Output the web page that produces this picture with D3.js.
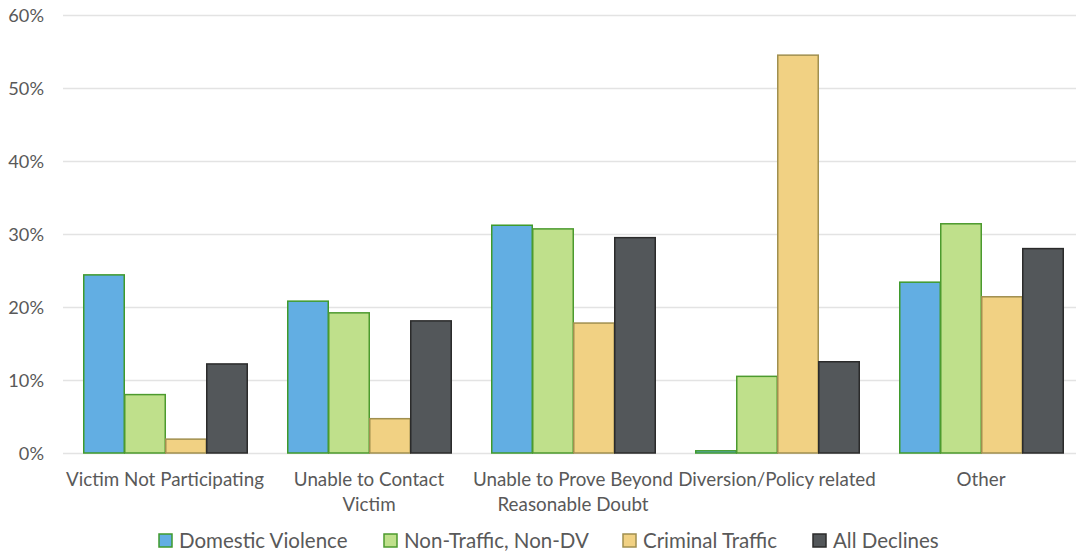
<!DOCTYPE html>
<html><head><meta charset="utf-8">
<script src="https://cdn.jsdelivr.net/npm/d3@7"></script>
<style>body{margin:0;background:#fff}svg{display:block}text{font-family:Lato,"Open Sans",sans-serif}</style>
</head><body><svg id="c" width="1076" height="554"></svg>
<script>
const categories = ["Victim Not Participating","Unable to Contact Victim","Unable to Prove Beyond Reasonable Doubt","Diversion/Policy related","Other"];
const seriesNames = ["Domestic Violence","Non-Traffic, Non-DV","Criminal Traffic","All Declines"];
const domesticViolence = [24.4, 20.8, 31.2, 0.3, 23.4];
const nonTrafficNonDV = [8.0, 19.2, 30.7, 10.5, 31.4];
const criminalTraffic = [1.9, 4.7, 17.8, 54.5, 21.4];
const allDeclines = [12.2, 18.1, 29.5, 12.5, 28.0];
const yTicks = [0,10,20,30,40,50,60];

const fills = ["#62AEE3","#BFE08B","#F1D183","#53575A"];
const strokes = ["#3F9A2C","#4C9A2E","#A08F4F","#2B2B2B"];
const values = [domesticViolence, nonTrafficNonDV, criminalTraffic, allDeclines];

const svg = d3.select("#c");
const pLeft = 63, bandW = 204, pTop = 15, pBottom = 453;
const x = d3.scaleBand().domain(categories).range([pLeft, pLeft + bandW*categories.length]).paddingInner(40/204).paddingOuter(20/204);
const xs = d3.scaleBand().domain(seriesNames).range([0, x.bandwidth()]);
const y = d3.scaleLinear().domain([0,60]).range([pBottom, pTop]);

// gridlines
svg.append("g").selectAll("line").data(yTicks).join("line")
  .attr("x1", pLeft).attr("x2", 1076)
  .attr("y1", d => y(d)+0.5).attr("y2", d => y(d)+0.5)
  .attr("stroke", "#E3E3E3").attr("stroke-width", 1.3);

// y axis
const yAxis = d3.axisLeft(y).tickValues(yTicks).tickFormat(d => d + "%").tickSize(0).tickPadding(0);
const yg = svg.append("g").attr("transform", `translate(44,0)`).call(yAxis);
yg.select(".domain").remove();
yg.selectAll("text").attr("fill", "#595959").style("font-size", "18.2px").style("font-family", "Lato,sans-serif").attr("dy", "0.35em");

// bars
const groups = svg.append("g").selectAll("g").data(categories).join("g")
  .attr("transform", c => `translate(${x(c)},0)`);
groups.selectAll("rect").data((c, i) => seriesNames.map((s, k) => ({s, k, v: values[k][i]})))
  .join("rect")
  .attr("x", d => xs(d.s)+0.75).attr("width", xs.bandwidth()-0.5)
  .attr("y", d => y(d.v)).attr("height", d => pBottom - y(d.v))
  .attr("fill", d => fills[d.k]).attr("stroke", d => strokes[d.k]).attr("stroke-width", 1.5);

// x axis
const xAxis = d3.axisBottom(x).tickSize(0).tickPadding(0);
const xg = svg.append("g").attr("transform", `translate(0,${pBottom})`).call(xAxis);
xg.select(".domain").remove();
xg.selectAll("text").attr("fill", "#595959").style("font-size", "18.8px").style("font-family", "Lato,sans-serif")
  .attr("y", 33).attr("dy", 0)
  .each(function(d){
    const t = d3.select(this); const words = d.split(" "); t.text(null);
    let line = [], lines = [];
    const tmp = t.append("tspan");
    words.forEach(w => { line.push(w); tmp.text(line.join(" "));
      if (tmp.node().getComputedTextLength() > 202 && line.length > 1) { line.pop(); lines.push(line.join(" ")); line = [w]; } });
    lines.push(line.join(" ")); tmp.remove();
    lines.forEach((l, i) => t.append("tspan").attr("x", 0).attr("dy", i ? 24.5 : 0).text(l));
  });

// legend
const legX = [159, 384, 623, 813];
const leg = svg.append("g").selectAll("g").data(seriesNames).join("g")
  .attr("transform", (d, i) => `translate(${legX[i]},534)`);
leg.append("rect").attr("width", 13).attr("height", 13)
  .attr("fill", (d, i) => fills[i]).attr("stroke", (d, i) => strokes[i]).attr("stroke-width", 1.5);
leg.append("text").attr("x", 20).attr("y", 6.5).attr("dy", "0.35em").text(d => d)
  .attr("fill", "#595959").style("font-size", "20.5px");
</script></body></html>
